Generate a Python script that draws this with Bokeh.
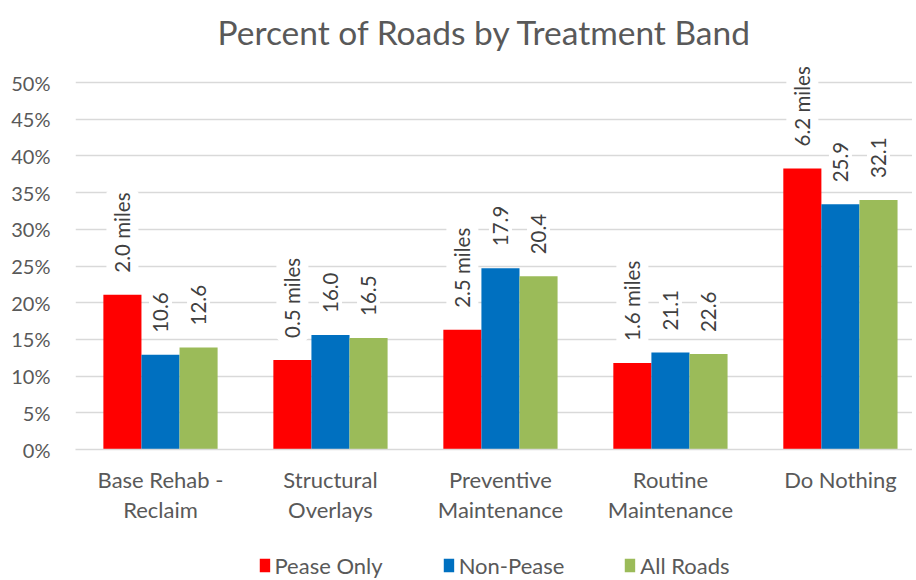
import numpy as np
from bokeh.plotting import figure
from bokeh.layouts import column
from bokeh.models import (ColumnDataSource, Range1d, FixedTicker, PrintfTickFormatter,
                          LabelSet, Legend, LegendItem, Title)
from bokeh.core.properties import value
from bokeh.embed import file_html
from bokeh.resources import INLINE

categories = ["Base Rehab -\nReclaim", "Structural\nOverlays", "Preventive\nMaintenance",
              "Routine\nMaintenance", "Do Nothing"]
series = ["Pease Only", "Non-Pease", "All Roads"]
colors = ["#FF0000", "#0070C0", "#9BBB59"]
pease_only = [21.1, 12.2, 16.3, 11.8, 38.3]
non_pease = [12.9, 15.6, 24.7, 13.2, 33.4]
all_roads = [13.9, 15.2, 23.6, 13.0, 34.0]
pease_labels = ["2.0 miles", "0.5 miles", "2.5 miles", "1.6 miles", "6.2 miles"]
non_pease_labels = ["10.6", "16.0", "17.9", "21.1", "25.9"]
all_roads_labels = ["12.6", "16.5", "20.4", "22.6", "32.1"]
y_ticks = [0, 5, 10, 15, 20, 25, 30, 35, 40, 45, 50]

FONT = "Lato"
TXT = "#595959"

p = figure(width=912, height=552, output_backend="svg", toolbar_location=None,
           x_range=Range1d(0, 4.924), y_range=Range1d(0, 53.0),
           min_border_left=75, min_border_right=0, min_border_top=60, min_border_bottom=103)
p.title = Title(text="Percent of Roads by Treatment Band", align="left",
                text_font=FONT, text_font_size="33.5px", text_font_style="normal",
                text_color=TXT, offset=142, standoff=17)
p.outline_line_color = None
p.background_fill_color = "white"

bw = 0.224
centers = np.arange(len(categories)) + 0.5
vals = [pease_only, non_pease, all_roads]
labs = [pease_labels, non_pease_labels, all_roads_labels]
sources = []
for i, (v, lab, c) in enumerate(zip(vals, labs, colors)):
    xs = centers + (i - 1) * bw
    src = ColumnDataSource(dict(x=xs, top=v, text=lab))
    sources.append(src)
    p.vbar(x="x", top="top", width=bw, bottom=0, source=src,
           fill_color=c, line_color=None)
    ls = LabelSet(x="x", y="top", text="text", source=src, angle=np.pi / 2,
                  text_align="left", text_baseline="middle", y_offset=22,
                  text_font=value(FONT), text_font_size=value("20.5px"), text_color="#404040",
                  background_fill_color="white", border_line_color="white",
                  border_line_width=8)
    p.add_layout(ls)

p.xaxis.ticker = FixedTicker(ticks=list(centers))
p.xaxis.major_label_overrides = {float(c): cat for c, cat in zip(centers, categories)}
p.xaxis.major_tick_line_color = None
p.xaxis.minor_tick_line_color = None
p.xaxis.axis_line_color = "#D9D9D9"
p.xaxis.axis_line_width = 1.5
p.xaxis.major_label_text_font = FONT
p.xaxis.major_label_text_font_size = "22px"
p.xaxis.major_label_text_color = TXT
p.xaxis.major_label_text_line_height = 1.13
p.xaxis.major_label_standoff = 10

p.yaxis.ticker = FixedTicker(ticks=y_ticks)
p.yaxis.formatter = PrintfTickFormatter(format="%d%%")
p.yaxis.major_tick_line_color = None
p.yaxis.minor_tick_line_color = None
p.yaxis.axis_line_color = None
p.yaxis.major_label_text_font = FONT
p.yaxis.major_label_text_font_size = "20px"
p.yaxis.major_label_text_color = TXT
p.yaxis.major_label_standoff = 19

p.xgrid.grid_line_color = None
p.ygrid.grid_line_color = "#D9D9D9"
p.ygrid.grid_line_width = 1.5

# legend strip below the chart (same data, kept out of its view)
lg = figure(width=912, height=26, output_backend="svg", toolbar_location=None,
            x_range=Range1d(100, 101), y_range=Range1d(100, 101),
            min_border_left=48, min_border_right=0, min_border_top=0, min_border_bottom=0)
lg.axis.visible = False
lg.grid.visible = False
lg.outline_line_color = None
items = []
for src, c, name in zip(sources, colors, series):
    r = lg.vbar(x="x", top="top", width=bw, bottom=0, source=src,
                fill_color=c, line_color=None)
    items.append(LegendItem(label=name, renderers=[r]))
legend = Legend(items=items, orientation="horizontal", location="center",
                label_text_font=FONT, label_text_font_size="22px", label_text_color=TXT,
                glyph_width=13, glyph_height=17, label_standoff=4, spacing=59,
                border_line_color=None, background_fill_alpha=0, padding=0, margin=0)
lg.add_layout(legend, "center")

layout = column(p, lg, spacing=0)
open("out.html", "w").write(file_html(layout, INLINE))
